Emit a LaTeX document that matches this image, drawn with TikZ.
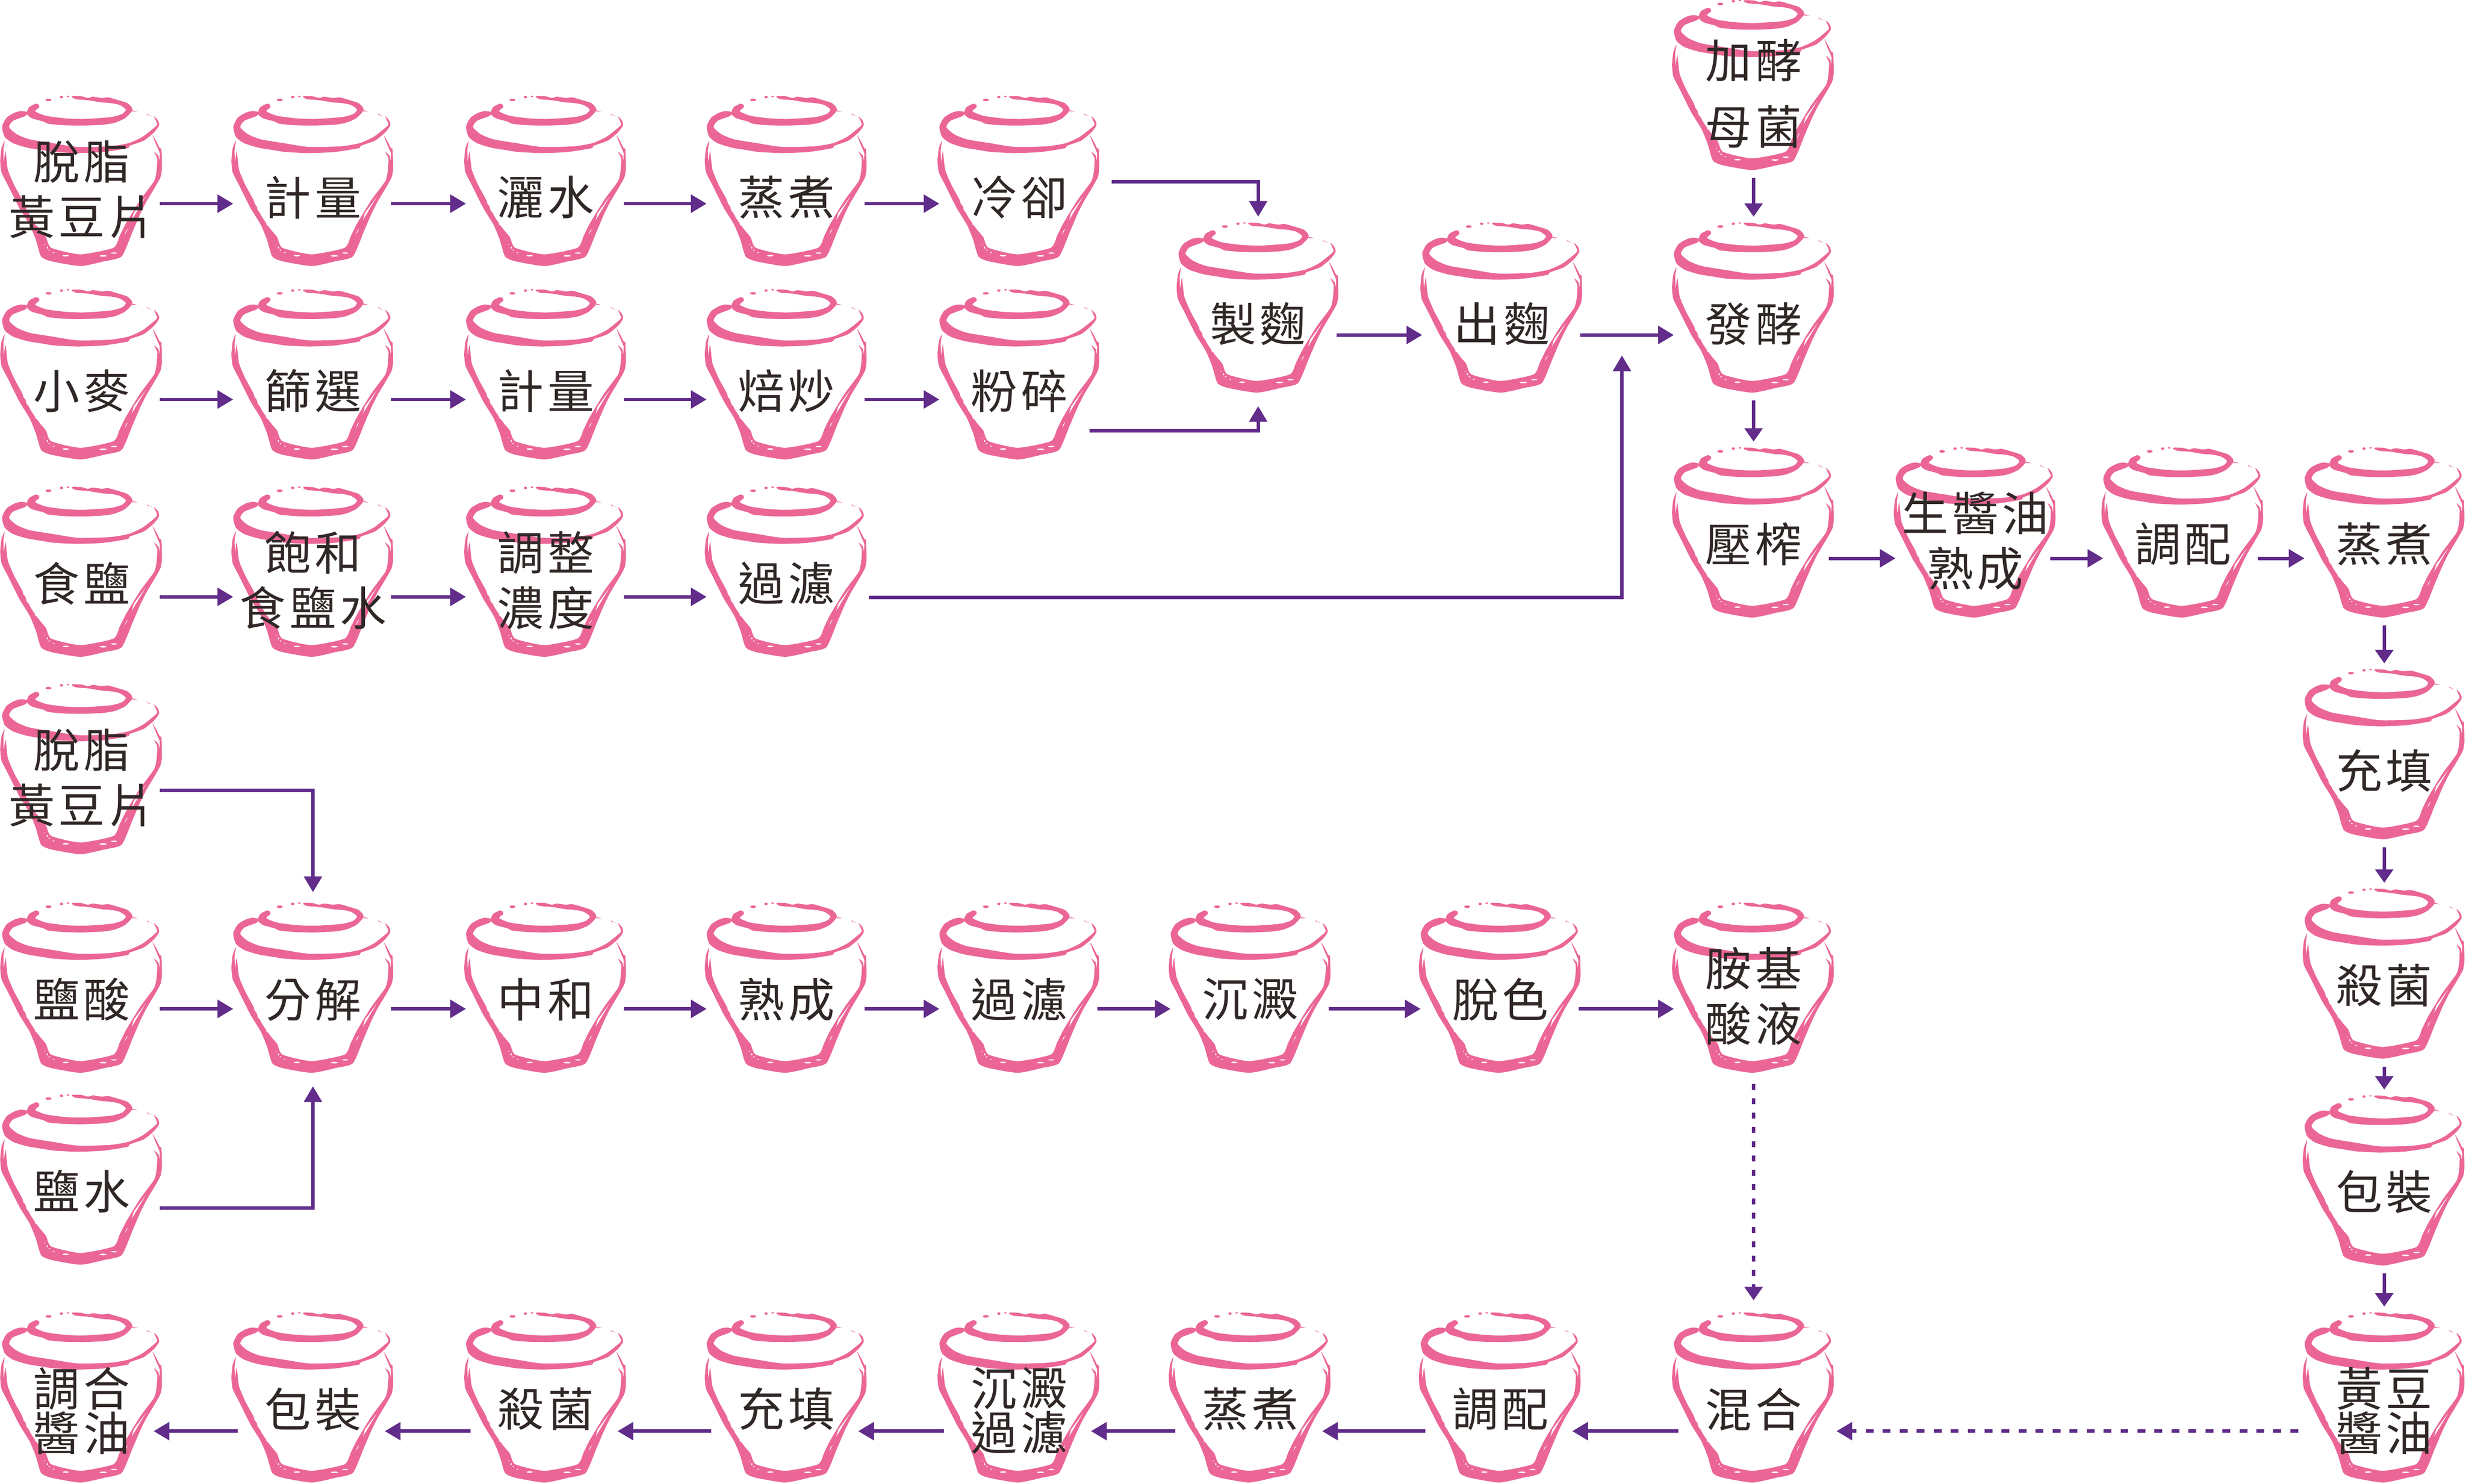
\documentclass[tikz,border=0pt]{standalone}
\usepackage{fontspec}
\usepackage{xcolor}
\usetikzlibrary{arrows.meta}
\usetikzlibrary{positioning}
\newfontfamily\cjk[LetterSpace=8]{Noto Sans CJK TC}
\definecolor{jarpink}{HTML}{EB6696}
\definecolor{flowpurple}{HTML}{612C8A}
\definecolor{inkbrown}{HTML}{302826}

\newcommand{\jarshape}{%
   % lid, small ring
   \fill[jarpink] plot[smooth cycle,tension=.4] coordinates {(495,300) (470,290) (420,315) (403,345) (402,375) (440,405) (530,430) (570,448) (700,460) (850,462) (1000,455) (1090,440) (1170,405) (1225,350) (1225,320) (1190,285) (1130,265) (1040,240) (990,245) (920,235) (880,245) (830,232) (760,230) (755,240) (790,255) (880,262) (990,280) (1060,285) (1130,300) (1178,335) (1150,370) (1060,395) (850,410) (700,405) (550,385) (465,350) (495,320)};
   % lid, big ring
   \fill[jarpink] plot[smooth cycle,tension=.4] coordinates {(400,355) (350,348) (300,362) (240,400) (205,470) (225,550) (290,600) (400,635) (520,655) (620,670) (800,678) (1000,670) (1190,640) (1210,620) (1320,580) (1400,515) (1440,460) (1430,420) (1400,390) (1425,450) (1400,480) (1310,550) (1200,600) (1050,625) (800,630) (600,600) (420,570) (320,530) (260,475) (290,425) (390,385)};
   % body
   \fill[jarpink] plot[smooth cycle,tension=.35] coordinates {(1388,538) (1420,590) (1445,640) (1458,650) (1462,800) (1450,870) (1400,960) (1340,1060) (1290,1160) (1230,1300) (1146,1491) (1011,1529) (821,1567) (590,1529) (511,1491) (470,1360) (420,1240) (340,1110) (250,930) (200,830) (190,740) (200,640) (225,580) (215,650) (218,745) (232,665) (250,810) (300,930) (360,1040) (430,1180) (500,1280) (550,1340) (592,1424) (821,1475) (1080,1424) (1130,1330) (1180,1230) (1290,1050) (1400,900) (1420,820) (1425,720) (1400,668) (1435,700) (1440,740) (1445,680) (1420,620)};
   % spots on the lid
   \foreach \x/\y/\r/\s in {570/260/24/10, 672/238/13/10, 724/232/10/6} \fill[jarpink] (\x,\y) ellipse ({\r} and {\s});
   \fill[jarpink] (1225,340) -- (1272,352) -- (1230,350) -- cycle;
   \fill[jarpink] (1342,368) -- (1382,388) -- (1345,375) -- cycle;
   % highlights
   \foreach \x/\y/\r/\s in {540/1398/3/5, 560/1422/5/8, 576/1442/7/5, 610/1462/8/3, 705/1485/25/6, 1000/1487/28/6, 1085/1465/25/5} \fill[white] (\x,\y) ellipse ({\r} and {\s});
   \fill[white] (358,1015) -- (388,1095) -- (372,1075) -- cycle;
   \fill[white] (390,1105) -- (430,1165) -- (398,1130) -- cycle;
   \fill[white] (460,1230) -- (482,1252) -- (468,1245) -- cycle;
   \fill[white] (1335,1020) -- (1225,1205) -- (1240,1150) -- cycle;
   \fill[white] (1195,1275) -- (1170,1320) -- (1180,1290) -- cycle;
}

\tikzset{
   jar/.style={inner sep=0pt,minimum width=1.04cm,minimum height=1.09cm,path picture={
      \begin{scope}[x=.0008137cm,y=-.0008137cm]
      \pgftransformshift{\pgfpoint{-.6721cm}{.7299cm}}
      \jarshape
      \end{scope}}},
   jartext/.style={inner sep=0pt,align=center,text=inkbrown,yshift=-1mm,font=\cjk\fontsize{8.4pt}{10pt}\selectfont},
   jartextup/.style={jartext,yshift=.3mm},
   twolines/.style={jartext,yshift=.5mm},
   twolow/.style={jartext,yshift=.2mm},
   flow/.style={draw=flowpurple,line width=.62pt,-{Triangle[length=1mm,width=1.12mm]}},
   rowflow/.style={flow,shorten <=-.3mm,shorten >=-.2mm},
   backflow/.style={flow,shorten <=-.5mm,shorten >=-.7mm},
   downflow/.style={draw=flowpurple,line width=.62pt,-{Triangle[length=.85mm,width=1.12mm]},shorten <=.35mm,shorten >=.3mm},
   flowdash/.style={downflow,dash pattern=on .37mm off .54mm},
   flowdot/.style={flow,dash pattern=on .5mm off .58mm},
}

\begin{document}
\begin{tikzpicture}
\useasboundingbox (0,0) rectangle (15.68,-9.436);
   % soybean row
   \node[jar,label={[twolines]center:脫脂\\黃豆片}] (bean) at (0.52,-1.155) {};
   \node[jar,label={[jartext]center:計量}] (meas) at (1.99,-1.155) {};
   \node[jar,label={[jartext]center:灑水}] (spray) at (3.47,-1.155) {};
   \node[jar,label={[jartext]center:蒸煮}] (steam) at (5.00,-1.155) {};
   \node[jar,label={[jartext]center:冷卻}] (cool) at (6.48,-1.155) {};
   % wheat row
   \node[jar,label={[jartext]center:小麥}] (wheat) at (0.52,-2.385) {};
   \node[jar,label={[jartext]center:篩選}] (sieve) at (1.99,-2.385) {};
   \node[jar,label={[jartext]center:計量}] (weigh) at (3.47,-2.385) {};
   \node[jar,label={[jartext]center:焙炒}] (roast) at (5.00,-2.385) {};
   \node[jar,label={[jartext]center:粉碎}] (grind) at (6.48,-2.385) {};
   % salt row
   \node[jar,label={[jartextup]center:食鹽}] (salt) at (0.52,-3.64) {};
   \node[jar,label={[twolines]center:飽和\\食鹽水}] (brine) at (1.99,-3.64) {};
   \node[jar,label={[twolines]center:調整\\濃度}] (adjust) at (3.47,-3.64) {};
   \node[jar,label={[jartextup]center:過濾}] (filter) at (5.00,-3.64) {};
   % koji and mash
   \node[jar,label={[jartext]center:製麴}] (koji) at (8.00,-1.96) {};
   \node[jar,label={[jartext]center:出麴}] (kojiout) at (9.55,-1.96) {};
   \node[jar,label={[twolines]center:加酵\\[2pt]母菌}] (yeast) at (11.15,-.545) {};
   \node[jar,label={[jartext]center:發酵}] (ferment) at (11.15,-1.96) {};
   \node[jar,label={[jartextup]center:壓榨}] (press) at (11.15,-3.39) {};
   \node[jar,label={[twolines]center:生醬油\\熟成}] (raw) at (12.56,-3.39) {};
   \node[jar,label={[jartextup]center:調配}] (blend) at (13.88,-3.39) {};
   \node[jar,label={[jartextup]center:蒸煮}] (cook) at (15.16,-3.39) {};
   \node[jar,label={[jartext]center:充填}] (fill) at (15.16,-4.80) {};
   \node[jar,label={[jartextup]center:殺菌}] (steril) at (15.16,-6.195) {};
   \node[jar,label={[jartextup]center:包裝}] (pack) at (15.16,-7.51) {};
   \node[jar,label={[twolow]center:黃豆\\[-2pt]醬油}] (soy) at (15.16,-8.89) {};
   % acid row
   \node[jar,label={[twolines]center:脫脂\\黃豆片}] (beantwo) at (0.52,-4.895) {};
   \node[jar,label={[jartextup]center:鹽酸}] (acid) at (0.52,-6.285) {};
   \node[jar,label={[jartextup]center:鹽水}] (water) at (0.52,-7.505) {};
   \node[jar,label={[jartextup]center:分解}] (split) at (1.99,-6.285) {};
   \node[jar,label={[jartextup]center:中和}] (neutral) at (3.47,-6.285) {};
   \node[jar,label={[jartextup]center:熟成}] (ripen) at (5.00,-6.285) {};
   \node[jar,label={[jartextup]center:過濾}] (strain) at (6.48,-6.285) {};
   \node[jar,label={[jartextup]center:沉澱}] (settle) at (7.95,-6.285) {};
   \node[jar,label={[jartextup]center:脫色}] (decolor) at (9.54,-6.285) {};
   \node[jar,label={[twolines]center:胺基\\酸液}] (amino) at (11.15,-6.285) {};
   % bottom row
   \node[jar,label={[jartextup]center:混合}] (mix) at (11.15,-8.89) {};
   \node[jar,label={[jartextup]center:調配}] (blendtwo) at (9.54,-8.89) {};
   \node[jar,label={[jartextup]center:蒸煮}] (cooktwo) at (7.95,-8.89) {};
   \node[jar,label={[twolow]center:沉澱\\[-2pt]過濾}] (settletwo) at (6.48,-8.89) {};
   \node[jar,label={[jartextup]center:充填}] (filltwo) at (5.00,-8.89) {};
   \node[jar,label={[jartextup]center:殺菌}] (steriltwo) at (3.47,-8.89) {};
   \node[jar,label={[jartextup]center:包裝}] (packtwo) at (1.99,-8.89) {};
   \node[jar,label={[twolow]center:調合\\[-2pt]醬油}] (final) at (0.52,-8.89) {};

   % straight runs
   \foreach \a/\b in {bean/meas,meas/spray,spray/steam,steam/cool}
      \draw[rowflow] ([yshift=-1.4mm]\a.east) -- ([yshift=-1.4mm]\b.west);
   \foreach \a/\b in {wheat/sieve,sieve/weigh,weigh/roast,roast/grind}
      \draw[rowflow] ([yshift=-1.55mm]\a.east) -- ([yshift=-1.55mm]\b.west);
   \foreach \a/\b in {salt/brine,brine/adjust,adjust/filter}
      \draw[rowflow] ([yshift=-1.55mm]\a.east) -- ([yshift=-1.55mm]\b.west);
   \foreach \a/\b in {koji/kojiout,kojiout/ferment}
      \draw[rowflow] ([yshift=-1.7mm]\a.east) -- ([yshift=-1.7mm]\b.west);
   \foreach \a/\b in {press/raw,raw/blend,blend/cook}
      \draw[rowflow,shorten <=-.5mm] ([yshift=-1.6mm]\a.east) -- ([yshift=-1.6mm]\b.west);
   \foreach \a/\b in {acid/split,split/neutral,neutral/ripen,ripen/strain,strain/settle,settle/decolor,decolor/amino}
      \draw[rowflow] ([yshift=-1.3mm]\a.east) -- ([yshift=-1.3mm]\b.west);
   \foreach \a/\b in {mix/blendtwo,blendtwo/cooktwo,cooktwo/settletwo,settletwo/filltwo,filltwo/steriltwo,steriltwo/packtwo,packtwo/final}
      \draw[backflow] ([yshift=-2.1mm]\a.west) -- ([yshift=-2.1mm]\b.east);
   \foreach \a/\b in {yeast/ferment,ferment/press,cook/fill,fill/steril,steril/pack,pack/soy}
      \draw[downflow] (\a.south) -- (\b.north);

   % elbows
   \draw[flow] ([xshift=.6mm]cool.east) -| ([yshift=.3mm]koji.north);
   \draw[flow] ([xshift=-.8mm,yshift=-3.55mm]grind.east) -| ([yshift=-.7mm]koji.south);
   \draw[flow] ([yshift=-1.6mm]filter.east) -| ([xshift=-.31cm,yshift=-.3cm]ferment.west);
   \draw[flow] ([xshift=-.3mm,yshift=-1.3mm]beantwo.east) -| ([yshift=.6mm]split.north);
   \draw[flow] ([xshift=-.3mm,yshift=-1.75mm]water.east) -| ([yshift=-.7mm]split.south);

   % the two mixed lines
   \draw[flowdash] ([yshift=-.2mm]amino.south) -- ([yshift=.4mm]mix.north);
   \draw[flowdot] ([xshift=-.2mm,yshift=-2.1mm]soy.west) -- ([yshift=-2.1mm]mix.east);
\end{tikzpicture}
\end{document}
